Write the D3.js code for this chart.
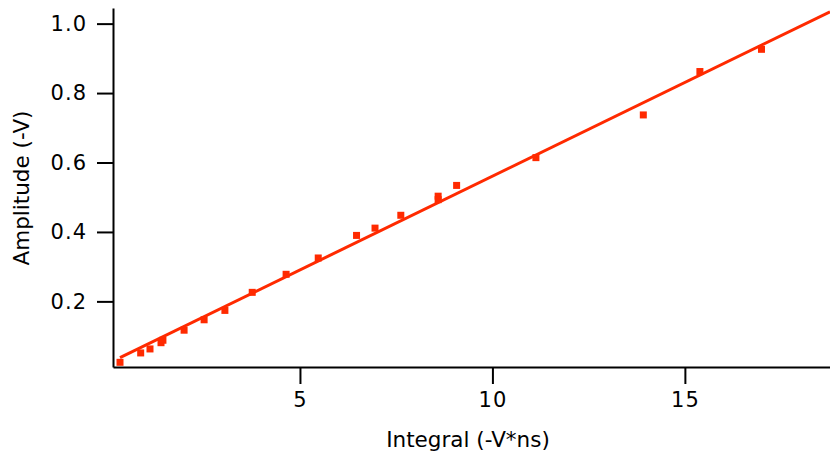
<!DOCTYPE html>
<html lang="en">
<head>
    <meta charset="UTF-8">
    <script src="https://d3js.org/d3.v7.min.js"></script>
    <title>Amplitude vs Integral</title>
    <style>
        body { margin: 0; background: #fff; }
        svg { display: block; }
        text { font-family: "DejaVu Sans", Verdana, sans-serif; fill: #000; }
    </style>
</head>
<body>
    <svg id="chart" width="830" height="459"></svg>

    <script>
        // values
        const integral = [0.325, 0.862, 1.104, 1.39, 1.44, 1.99, 2.51, 3.05, 3.76, 4.64, 5.475,
                          6.47, 6.95, 7.62, 8.59, 8.59, 9.07, 11.13, 13.92, 15.39, 16.99];
        const amplitude = [0.0245, 0.0515, 0.063, 0.081, 0.088, 0.117, 0.147, 0.174, 0.226, 0.278, 0.325,
                           0.390, 0.411, 0.448, 0.503, 0.493, 0.534, 0.614, 0.737, 0.862, 0.926];
        const fitSlope = 0.0540, fitIntercept = 0.0206;
        const xTicks = [5, 10, 15];
        const yTicks = [0.2, 0.4, 0.6, 0.8, 1.0];

        const width = 830, height = 459;
        const margin = {top: 8, right: 0, bottom: 92, left: 113};
        const red = "#ff2a00";

        const svg = d3.select("#chart");

        const x = d3.scaleLinear().domain([0.143, 18.77]).range([margin.left, width - margin.right]);
        const y = d3.scaleLinear().domain([0.011, 1.045]).range([height - margin.bottom, margin.top]);

        svg.append("defs").append("clipPath").attr("id", "plot")
            .append("rect")
            .attr("x", margin.left).attr("y", margin.top)
            .attr("width", width - margin.left - margin.right)
            .attr("height", height - margin.top - margin.bottom);

        // fit line
        const x0 = d3.min(integral), x1 = x.domain()[1];
        svg.append("line")
            .attr("clip-path", "url(#plot)")
            .attr("x1", x(x0)).attr("y1", y(fitIntercept + fitSlope * x0))
            .attr("x2", x(x1)).attr("y2", y(fitIntercept + fitSlope * x1))
            .attr("stroke", red)
            .attr("stroke-width", 3);

        // data points
        const s = 7;
        svg.append("g")
            .selectAll("rect")
            .data(d3.range(integral.length))
            .join("rect")
            .attr("x", i => x(integral[i]) - s / 2)
            .attr("y", i => y(amplitude[i]) - s / 2)
            .attr("width", s)
            .attr("height", s)
            .attr("fill", red);

        // axes
        const xAxis = svg.append("g")
            .attr("transform", `translate(0,${height - margin.bottom})`)
            .call(d3.axisBottom(x).tickValues(xTicks).tickFormat(d3.format("d"))
                .tickSize(17).tickSizeOuter(0).tickPadding(8));

        const yAxis = svg.append("g")
            .attr("transform", `translate(${margin.left},0)`)
            .call(d3.axisLeft(y).tickValues(yTicks).tickFormat(d3.format(".1f"))
                .tickSize(16).tickSizeOuter(0).tickPadding(10));

        [xAxis, yAxis].forEach(g => {
            g.select(".domain").attr("stroke-width", 2);
            g.selectAll(".tick line").attr("stroke-width", 2);
            g.selectAll(".tick text")
                .attr("font-family", "DejaVu Sans, sans-serif")
                .attr("font-size", 21)
                .attr("letter-spacing", 1);
        });

        // titles
        svg.append("text")
            .attr("x", 468)
            .attr("y", 447)
            .attr("text-anchor", "middle")
            .attr("font-size", 21.5)
            .text("Integral (-V*ns)");

        svg.append("text")
            .attr("transform", "translate(29,188) rotate(-90)")
            .attr("text-anchor", "middle")
            .attr("font-size", 21.5)
            .text("Amplitude (-V)");
    </script>
</body>
</html>
